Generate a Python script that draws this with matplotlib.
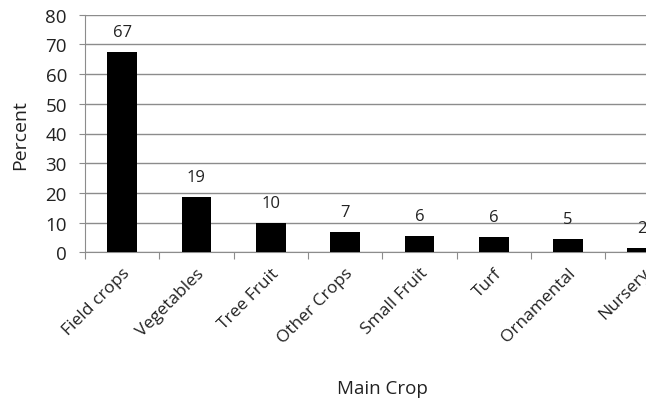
import matplotlib
matplotlib.use('Agg')
import matplotlib.pyplot as plt
import numpy as np

# Hauptkulturen und Anteil in Prozent
crops = ['Field crops', 'Vegetables', 'Tree Fruit', 'Other Crops',
         'Small Fruit', 'Turf', 'Ornamental', 'Nursery']
percent = [67.3, 18.7, 9.9, 6.7, 5.5, 5.1, 4.5, 1.4]
labels = ['67', '19', '10', '7', '6', '6', '5', '2']
yticks = [0, 10, 20, 30, 40, 50, 60, 70, 80]

plt.rcParams['font.family'] = ['Open Sans', 'DejaVu Sans']
grey = '#8c8c8c'
txt = '#222222'

fig = plt.figure(figsize=(6.46, 4.06), dpi=100)
ax = fig.add_axes([85/646, (406-253.3)/406, 1 - 85/646, (253.3-15.7)/406])

x = np.arange(len(crops))
ax.bar(x, percent, width=0.40, color='black', zorder=3)
for xi, val, lab in zip(x, percent, labels):
    ax.annotate(lab, (xi, val), xytext=(0, 14.4), textcoords='offset points',
                ha='center', va='center', fontsize=12, color=txt)

ax.set_ylim(0, 80)
ax.set_xlim(-0.5, 7.05)
ax.set_yticks(yticks)
ax.yaxis.grid(True, color=grey, linewidth=1.0, zorder=0)
ax.tick_params(axis='y', length=4, color=grey, labelsize=13.5, labelcolor=txt, pad=9)

# x-Ticks an den Kategoriegrenzen, Beschriftungen in der Mitte
ax.set_xticks(np.arange(-0.5, 7.5, 1.0))
ax.set_xticklabels([])
ax.set_xticks(x, minor=True)
ax.set_xticklabels(crops, minor=True, rotation=45, ha='right', rotation_mode='anchor',
                   fontsize=12.5, color=txt)
ax.tick_params(axis='x', which='major', length=5, color=grey)
ax.tick_params(axis='x', which='minor', length=0, pad=9)

for s in ['top', 'right']:
    ax.spines[s].set_visible(False)
for s in ['left', 'bottom']:
    ax.spines[s].set_color(grey)

fig.text(20/646, 1 - 135/406, 'Percent', rotation=90, ha='center', va='center',
         fontsize=14, color=txt)
fig.text(382/646, 1 - 389/406, 'Main Crop', ha='center', va='center',
         fontsize=13.5, color=txt)

fig.savefig('out.png', dpi=100)
